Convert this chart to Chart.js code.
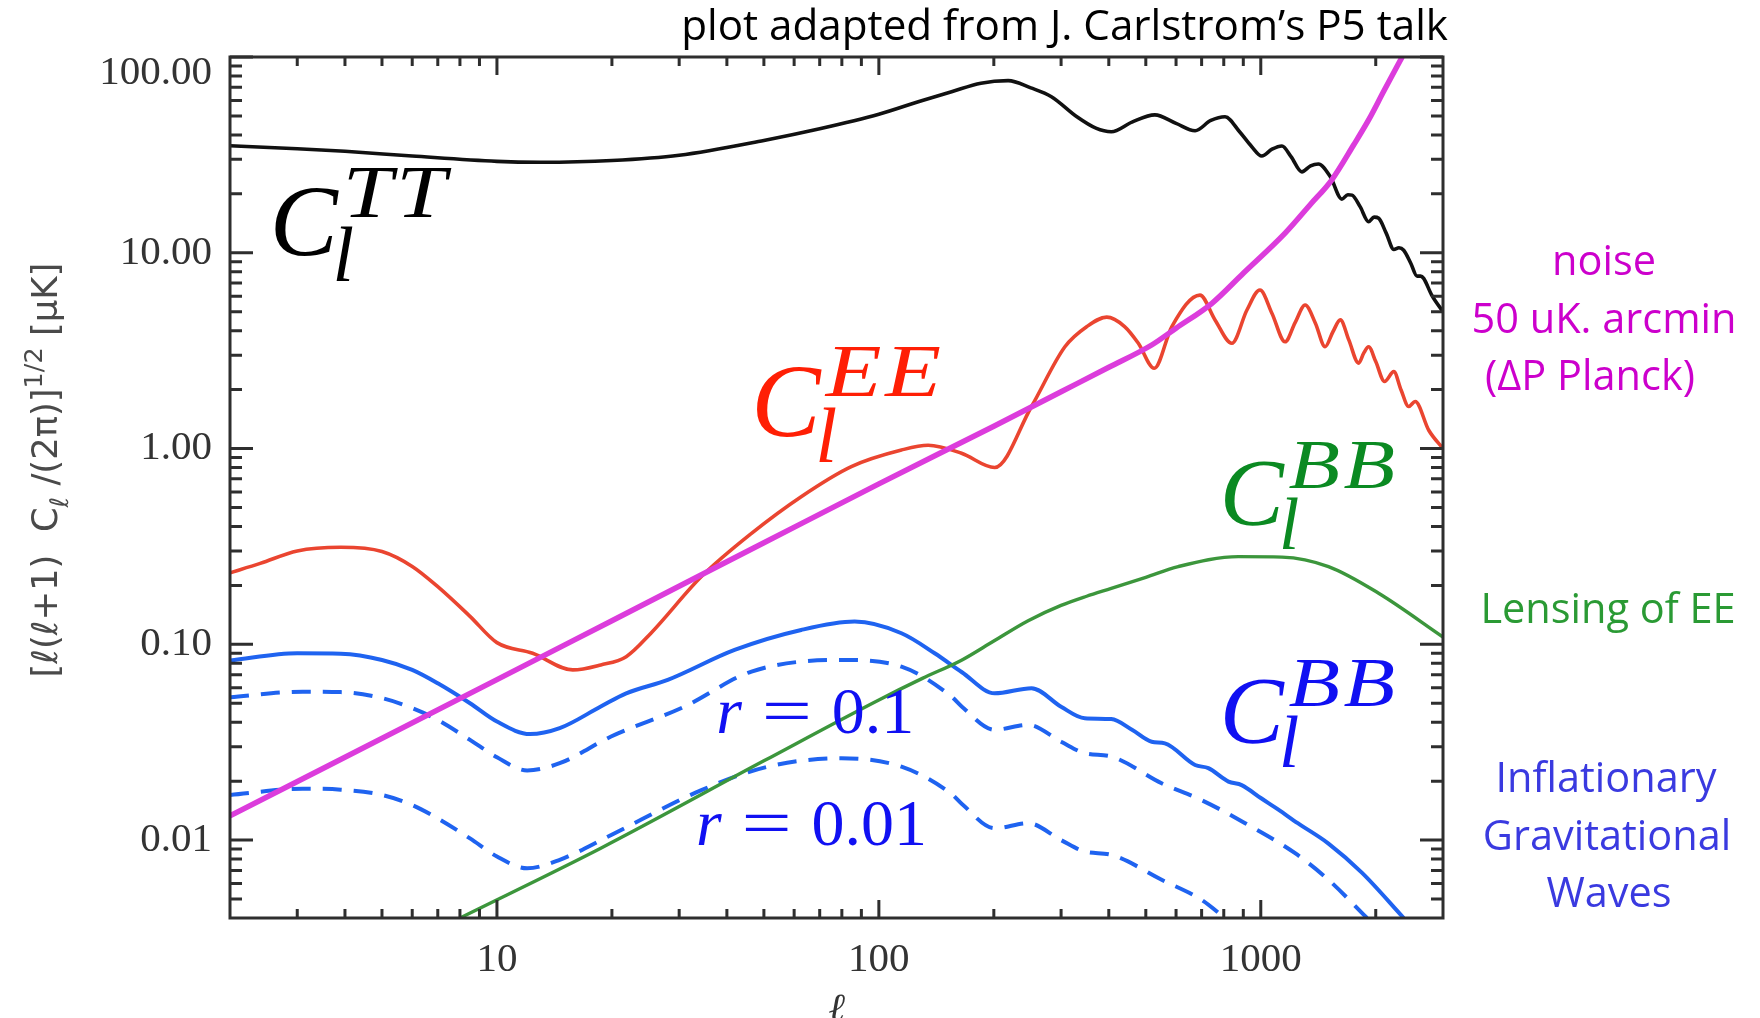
<!DOCTYPE html>
<html lang="en">
<head>
<meta charset="UTF-8">
<title>CMB temperature and polarization spectra</title>
<script src="https://cdn.jsdelivr.net/npm/chart.js"></script>
<style>
  html, body { margin: 0; padding: 0; background: #ffffff; }
  canvas { display: block; }
</style>
</head>
<body>
<canvas id="spectra" width="1760" height="1018"></canvas>
<script>
// ---- spectra: multipole l and amplitude [uK] ----
const ttEll = [2, 3, 4, 6, 10, 13, 20, 30, 50, 70, 100, 130, 155, 185, 218, 250, 283, 330, 370, 406, 460, 528, 600, 673, 740, 806, 880, 946, 1006, 1070, 1136, 1200, 1281, 1350, 1415, 1520, 1631, 1690, 1733, 1820, 1916, 1980, 2036, 2130, 2230, 2300, 2367, 2470, 2566, 2620, 2670, 2800, 3000];
const ttAmp = [35.2, 34.0, 33.0, 31.2, 29.3, 29.0, 29.6, 31.5, 37.5, 43.0, 51.0, 60.0, 66.5, 73.5, 75.7, 69.5, 62.7, 49.5, 43.3, 41.5, 46.5, 50.6, 45.8, 42.0, 47.4, 49.5, 41.5, 34.9, 31.2, 33.8, 35.1, 31.0, 25.9, 27.8, 28.4, 24.5, 18.8, 19.8, 19.7, 17.2, 14.4, 15.2, 15.0, 12.6, 10.4, 10.6, 10.3, 8.84, 7.6, 7.6, 7.4, 6.1, 5.0];

const eeEll = [2, 2.4, 3, 3.9, 5, 6, 7, 8.5, 10, 12.4, 15.8, 18.7, 21.8, 25.3, 34.3, 46.4, 62.6, 84.7, 114.6, 134.6, 164.6, 201, 251, 307, 350, 395, 440, 478, 526, 585, 693, 759, 840, 920, 995, 1070, 1158, 1230, 1307, 1390, 1474, 1545, 1616, 1700, 1804, 1860, 1916, 2000, 2109, 2230, 2330, 2439, 2537, 2753, 3000];
const eeAmp = [0.232, 0.259, 0.300, 0.313, 0.298, 0.250, 0.197, 0.139, 0.102, 0.090, 0.074, 0.0785, 0.0865, 0.114, 0.222, 0.369, 0.568, 0.809, 0.983, 1.04, 0.946, 0.80, 1.64, 3.31, 4.19, 4.69, 4.2, 3.45, 2.57, 4.2, 6.08, 4.54, 3.45, 5.1, 6.45, 4.9, 3.51, 4.4, 5.41, 4.37, 3.31, 3.95, 4.54, 3.59, 2.73, 3.07, 3.31, 2.78, 2.20, 2.47, 1.99, 1.64, 1.74, 1.24, 1.0];

const noiseEll = [2, 10, 20, 50, 100, 200, 300, 400, 518, 600, 745, 900, 1158, 1350, 1535, 1750, 1916, 2100, 2345];
const noiseAmp = [0.0133, 0.066, 0.132, 0.33, 0.66, 1.30, 1.95, 2.6, 3.38, 4.12, 5.52, 7.86, 12.6, 17.7, 23.6, 35.5, 47.7, 67, 100];

const lensEll = [8, 18.7, 50, 100, 130, 164.6, 200, 246, 300, 350, 406, 500, 608, 874, 1136, 1504, 2035, 3000];
const lensAmp = [0.004, 0.00909, 0.0254, 0.052, 0.067, 0.083, 0.104, 0.132, 0.158, 0.176, 0.193, 0.22, 0.2495, 0.2805, 0.279, 0.2495, 0.1824, 0.109];

const bbEll = [2, 3, 3.9, 5, 6, 7, 8.5, 10, 12.2, 14.6, 18.7, 21.8, 28, 41.9, 62.6, 86.4, 114.6, 140, 165, 201, 251, 300, 346, 406, 460, 518, 561, 673, 729, 823, 891, 1000, 1112, 1250, 1504, 1842, 2367];
const bbAmp = [0.0826, 0.090, 0.0895, 0.0832, 0.074, 0.0632, 0.050, 0.0403, 0.0348, 0.0373, 0.0481, 0.0562, 0.0658, 0.0936, 0.1184, 0.1306, 0.1139, 0.090, 0.072, 0.0562, 0.0597, 0.048, 0.0419, 0.0415, 0.0366, 0.0318, 0.0312, 0.0242, 0.0233, 0.0199, 0.0191, 0.0164, 0.0143, 0.0122, 0.0096, 0.0068, 0.004];

const bbR01Ell = [2, 3.1, 3.9, 5, 6, 7, 8.5, 10, 12, 14.6, 19.9, 31, 46.4, 79.8, 114.6, 155, 165, 201, 246, 300, 346, 406, 550, 700, 910, 1230, 1504, 1897];
const bbR01Amp = [0.0537, 0.0573, 0.057, 0.0531, 0.0472, 0.0411, 0.0325, 0.0265, 0.0227, 0.0247, 0.0338, 0.0481, 0.0726, 0.0832, 0.0769, 0.054, 0.048, 0.0366, 0.0388, 0.0318, 0.0278, 0.0267, 0.0195, 0.0160, 0.0122, 0.00857, 0.00627, 0.004];

const bbR001Ell = [2, 3.1, 3.9, 5, 6, 7, 8.5, 10, 12, 14.6, 19.5, 34.3, 51.2, 79.8, 114.6, 155, 165, 201, 246, 300, 346, 406, 550, 700, 806];
const bbR001Amp = [0.017, 0.0183, 0.0181, 0.017, 0.0151, 0.0129, 0.0102, 0.00824, 0.00718, 0.00793, 0.0104, 0.018, 0.0237, 0.0262, 0.0237, 0.0172, 0.0153, 0.0115, 0.0122, 0.0100, 0.00874, 0.0084, 0.00627, 0.00495, 0.004];

// ---- axis ticks ----
const xMajorTicks = [10, 100, 1000];
const xMinorTicks = [3, 4, 5, 6, 7, 8, 9, 20, 30, 40, 50, 60, 70, 80, 90, 200, 300, 400, 500, 600, 700, 800, 900, 2000];
const yMajorTicks = [0.01, 0.1, 1, 10, 100];
const yTickLabels = ['0.01', '0.10', '1.00', '10.00', '100.00'];
const yMinorTicks = [0.005, 0.006, 0.007, 0.008, 0.009, 0.02, 0.03, 0.04, 0.05, 0.06, 0.07, 0.08, 0.09,
  0.2, 0.3, 0.4, 0.5, 0.6, 0.7, 0.8, 0.9, 2, 3, 4, 5, 6, 7, 8, 9, 20, 30, 40, 50, 60, 70, 80, 90];

const AXIS_COLOR = '#2e2e2e';
const TICK_FONT = '41px "Liberation Serif"';

function toPoints(ells, amps) {
  return ells.map((l, i) => ({ x: l, y: amps[i] }));
}

function curve(ells, amps, color, width, order, dash) {
  return {
    data: toPoints(ells, amps),
    borderColor: color,
    borderWidth: width,
    borderDash: dash || [],
    order: order,
    pointRadius: 0,
    fill: false,
    cubicInterpolationMode: 'monotone'
  };
}

// math-style labels drawn in data coordinates
const texLabels = [
  { base: 'C', sup: 'TT', sub: 'l', ell: 2.54, amp: 9.63, color: '#000000', size: 102 },
  { base: 'C', sup: 'EE', sub: 'l', ell: 46.3, amp: 1.16, color: '#ff1f05', size: 104 },
  { base: 'C', sup: 'BB', sub: 'l', ell: 781, amp: 0.407, color: '#0b8a22', size: 96 },
  { base: 'C', sup: 'BB', sub: 'l', ell: 781, amp: 0.0314, color: '#1010f2', size: 96 }
];
const ratioLabels = [
  { text: '0.1', ell: 37.5, amp: 0.0353 },
  { text: '0.01', ell: 33.2, amp: 0.00945 }
];

function drawTex(ctx, x, y, lab) {
  const S = lab.size;
  ctx.fillStyle = lab.color;
  ctx.textAlign = 'left';
  ctx.textBaseline = 'alphabetic';
  ctx.font = `italic ${S}px "Liberation Serif"`;
  ctx.fillText(lab.base, x, y);
  const w = ctx.measureText(lab.base).width;
  // superscript letters, a little wider than the text face
  const supS = 0.72 * S, stretch = 1.22;
  ctx.font = `italic ${supS}px "Liberation Serif"`;
  let cx = x + w + 0.05 * S;
  for (const ch of lab.sup) {
    ctx.save();
    ctx.translate(cx, y - 0.38 * S);
    ctx.scale(stretch, 1);
    ctx.fillText(ch, 0, 0);
    ctx.restore();
    cx += ctx.measureText(ch).width * stretch + 0.05 * supS;
  }
  ctx.font = `italic ${0.76 * S}px "Liberation Serif"`;
  ctx.fillText(lab.sub, x + w - 0.05 * S, y + 0.25 * S);
}

function drawRatio(ctx, x, y, value) {
  const S = 66;
  ctx.fillStyle = '#1010f2';
  ctx.textAlign = 'left';
  ctx.textBaseline = 'alphabetic';
  ctx.font = `italic ${S}px "Liberation Serif"`;
  ctx.fillText('r', x, y);
  let cx = x + ctx.measureText('r').width + 0.3 * S;
  ctx.font = `${S}px "Liberation Serif"`;
  ctx.save();
  ctx.translate(cx, y);
  ctx.scale(1.35, 1);
  ctx.fillText('=', 0, 0);
  ctx.restore();
  cx += ctx.measureText('=').width * 1.35 + 0.3 * S;
  ctx.fillText(value, cx, y);
}

function fitSize(ctx, text, family, target) {
  ctx.font = `100px ${family}`;
  return 100 * target / ctx.measureText(text).width;
}

const axesPlugin = {
  id: 'idlAxes',
  afterDatasetsDraw(chart) {
    const { ctx, chartArea: a } = chart;
    const sx = chart.scales.x, sy = chart.scales.y;
    ctx.save();
    ctx.strokeStyle = AXIS_COLOR;
    ctx.lineWidth = 3;
    ctx.beginPath();
    const xTick = (v, len) => {
      const p = sx.getPixelForValue(v);
      ctx.moveTo(p, a.bottom); ctx.lineTo(p, a.bottom - len);
      ctx.moveTo(p, a.top); ctx.lineTo(p, a.top + len);
    };
    const yTick = (v, len) => {
      const p = sy.getPixelForValue(v);
      ctx.moveTo(a.left, p); ctx.lineTo(a.left + len, p);
      ctx.moveTo(a.right, p); ctx.lineTo(a.right - len, p);
    };
    xMajorTicks.forEach(v => xTick(v, 18));
    xMinorTicks.forEach(v => xTick(v, 9));
    yMajorTicks.forEach(v => yTick(v, 23));
    yMinorTicks.forEach(v => yTick(v, 12));
    ctx.stroke();
    ctx.strokeRect(a.left, a.top, a.right - a.left, a.bottom - a.top);

    // y tick labels, kept inside the frame height
    ctx.fillStyle = '#333333';
    ctx.font = TICK_FONT;
    ctx.textAlign = 'right';
    ctx.textBaseline = 'middle';
    yMajorTicks.forEach((v, i) => {
      const p = Math.max(sy.getPixelForValue(v), a.top + 16);
      ctx.fillText(yTickLabels[i], a.left - 18, p);
    });

    // axis titles
    ctx.textAlign = 'center';
    ctx.textBaseline = 'alphabetic';
    ctx.font = 'italic 40px "DejaVu Serif"';
    ctx.fillText('\u2113', (a.left + a.right) / 2, 1021);

    ctx.save();
    ctx.translate(57, 470);
    ctx.rotate(-Math.PI / 2);
    const fam = '"DejaVu Sans"';
    const parts = [
      { t: '[\u2113(\u2113+1)  C', s: 1, dy: 0 },
      { t: '\u2113', s: 0.72, dy: 0.3 },
      { t: ' /(2\u03c0)]', s: 1, dy: 0 },
      { t: '1/2', s: 0.72, dy: -0.42 },
      { t: ' [\u03bcK]', s: 1, dy: 0 }
    ];
    let base = 27, total = 0;
    parts.forEach(p => { ctx.font = `${base * p.s}px ${fam}`; total += ctx.measureText(p.t).width; });
    base *= 415 / total;
    let cx = -415 / 2;
    ctx.textAlign = 'left';
    ctx.fillStyle = '#4a4a4a';
    parts.forEach(p => {
      ctx.font = `${base * p.s}px ${fam}`;
      ctx.fillText(p.t, cx, p.dy * base);
      cx += ctx.measureText(p.t).width;
    });
    ctx.restore();

    // curve labels
    texLabels.forEach(lab => drawTex(ctx, sx.getPixelForValue(lab.ell), sy.getPixelForValue(lab.amp), lab));
    ratioLabels.forEach(r => drawRatio(ctx, sx.getPixelForValue(r.ell), sy.getPixelForValue(r.amp), r.text));

    // source note and side captions
    const sans = '"Open Sans"';
    ctx.fillStyle = '#000000';
    ctx.textAlign = 'right';
    const note = 'plot adapted from J. Carlstrom\u2019s P5 talk';
    ctx.font = `${fitSize(ctx, note, sans, 767)}px ${sans}`;
    ctx.fillText(note, 1448, 40);

    const sideSize = fitSize(ctx, '50 uK. arcmin', sans, 265);
    ctx.font = `${sideSize}px ${sans}`;
    ctx.textAlign = 'center';
    const side = [
      { t: 'noise', x: 1604, y: 275, c: '#cc00cc' },
      { t: '50 uK. arcmin', x: 1604, y: 333, c: '#cc00cc' },
      { t: '(\u0394P Planck)', x: 1590, y: 390, c: '#cc00cc' },
      { t: 'Lensing of EE', x: 1608, y: 623, c: '#2a9a34' },
      { t: 'Inflationary', x: 1606, y: 792, c: '#3a3ae0' },
      { t: 'Gravitational', x: 1607, y: 850, c: '#3a3ae0' },
      { t: 'Waves', x: 1609, y: 907, c: '#3a3ae0' }
    ];
    side.forEach(s => { ctx.fillStyle = s.c; ctx.fillText(s.t, s.x, s.y); });
    ctx.restore();
  }
};

new Chart(document.getElementById('spectra'), {
  type: 'line',
  data: {
    datasets: [
      curve(noiseEll, noiseAmp, '#dc3cdc', 5.5, 0),
      curve(ttEll, ttAmp, '#111111', 3.6, 1),
      curve(eeEll, eeAmp, '#ea4530', 3.6, 2),
      curve(lensEll, lensAmp, '#3c963c', 3.4, 3),
      curve(bbEll, bbAmp, '#1f63f0', 4, 4),
      curve(bbR01Ell, bbR01Amp, '#1f63f0', 4, 5, [19, 12]),
      curve(bbR001Ell, bbR001Amp, '#1f63f0', 4, 6, [19, 12])
    ]
  },
  options: {
    responsive: false,
    animation: false,
    devicePixelRatio: 1,
    layout: { padding: { top: 57, right: 317, left: 0, bottom: 0 } },
    plugins: { legend: { display: false }, tooltip: { enabled: false } },
    scales: {
      x: {
        type: 'logarithmic',
        min: 2,
        max: 3000,
        grid: { display: false, drawTicks: false },
        border: { display: false },
        afterBuildTicks: s => { s.ticks = xMajorTicks.map(v => ({ value: v })); },
        ticks: {
          autoSkip: false,
          maxRotation: 0,
          padding: 18,
          color: '#333333',
          font: { family: 'Liberation Serif', size: 41 },
          callback: v => String(v)
        },
        afterFit: s => { s.height = 100; }
      },
      y: {
        type: 'logarithmic',
        min: 0.004,
        max: 100,
        grid: { display: false, drawTicks: false },
        border: { display: false },
        afterBuildTicks: s => { s.ticks = yMajorTicks.map(v => ({ value: v })); },
        ticks: { display: false },
        afterFit: s => { s.width = 230; }
      }
    }
  },
  plugins: [axesPlugin]
});
</script>
</body>
</html>
